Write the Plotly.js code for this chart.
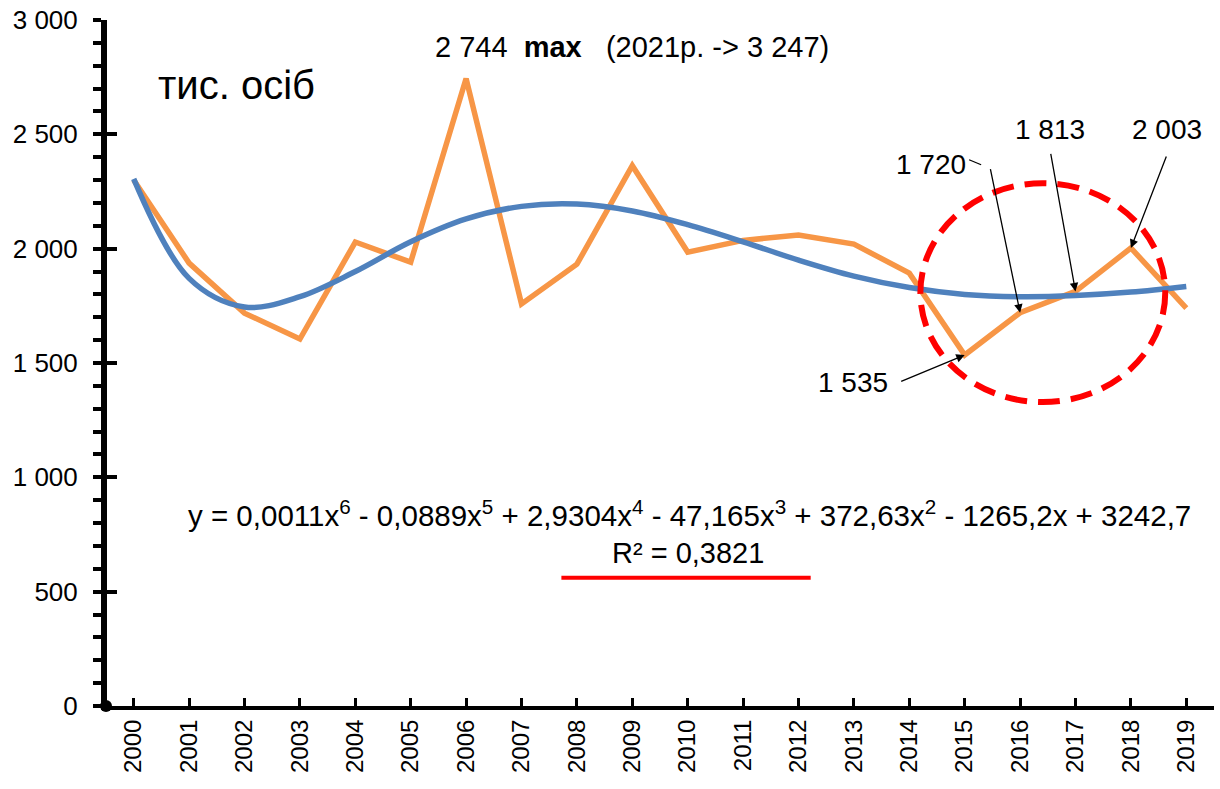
<!DOCTYPE html>
<html>
<head>
<meta charset="utf-8">
<script src="https://cdn.plot.ly/plotly-3.0.1.min.js"></script>
<style>html,body{margin:0;padding:0;background:#fff;}#chart{width:1220px;height:789px;}</style>
</head>
<body>
<div id="chart"></div>
<script>
const years = ['2000','2001','2002','2003','2004','2005','2006','2007','2008','2009','2010','2011','2012','2013','2014','2015','2016','2017','2018','2019'];
const actual = [2300,1937,1718,1605,2029,1941,2744,1758,1932,2363,1985,2036,2060,2020,1893,1535,1720,1813,2003,1740];
const trend = [2305,1870,1745,1790,1900,2030,2130,2185,2195,2165,2105,2030,1950,1880,1830,1800,1790,1795,1810,1835];
const yTicks = [0,500,1000,1500,2000,2500,3000];

const FONT = 'Liberation Sans, Arial, sans-serif';

const traces = [
  {x: years, y: actual, type: 'scatter', mode: 'lines', line: {color: '#F79646', width: 5.5}, cliponaxis: false, hoverinfo: 'skip'},
  {x: years, y: trend, type: 'scatter', mode: 'lines', line: {color: '#4F81BD', width: 5.5, shape: 'spline', smoothing: 1}, cliponaxis: false, hoverinfo: 'skip'},
  {x: years, y: actual, yaxis: 'y2', type: 'scatter', mode: 'lines', line: {width: 0}, opacity: 0, hoverinfo: 'skip'}
];

function txt(text, xp, yp, size, extra) {
  return Object.assign({text: text, xref: 'paper', yref: 'paper', x: xp, y: yp, showarrow: false,
    xanchor: 'center', yanchor: 'middle', font: {family: FONT, size: size, color: '#000'}}, extra || {});
}
function arrow(xi, yv, ax, ay) {
  return {x: xi, y: yv, xref: 'x', yref: 'y', text: '', showarrow: true, ax: ax, ay: ay,
    arrowhead: 2, arrowsize: 1.3, arrowwidth: 1.3, arrowcolor: '#000', standoff: 0};
}

const layout = {
  width: 1220, height: 789,
  margin: {l: 106, r: 6, t: 20, b: 83},
  paper_bgcolor: '#fff', plot_bgcolor: '#fff',
  showlegend: false,
  font: {family: FONT, size: 22, color: '#000'},
  xaxis: {
    type: 'category', range: [-0.5, 19.5], fixedrange: true,
    showline: true, linecolor: '#000', linewidth: 4,
    ticks: 'inside', ticklen: 8, tickwidth: 3, tickcolor: '#000',
    tickangle: -90, tickfont: {family: FONT, size: 24, color: '#000'},
    showgrid: false, zeroline: false
  },
  yaxis: {
    range: [0, 3000], tickvals: yTicks, fixedrange: true,
    showline: true, linecolor: '#000', linewidth: 5,
    ticks: 'outside', ticklen: 8, tickwidth: 4, tickcolor: '#000',
    minor: {dtick: 100, ticks: 'outside', ticklen: 8, tickwidth: 4, tickcolor: '#000'},
    tickformat: ',d', ticklabelstandoff: 10,
    tickfont: {family: FONT, size: 26, color: '#000'},
    showgrid: false, zeroline: false
  },
  yaxis2: {
    overlaying: 'y', side: 'left', anchor: 'x', range: [0, 3000], tickvals: yTicks,
    showline: false,
    ticks: 'inside', ticklen: 11, tickwidth: 4, tickcolor: '#000',
    showticklabels: false, showgrid: false, zeroline: false, fixedrange: true
  },
  separators: ', ',
  shapes: [
    {type: 'line', xref: 'paper', yref: 'paper', xsizemode: 'pixel', xanchor: 0, x0: -1.5, x1: -1.5, y0: 0, y1: 1,
     line: {color: '#000', width: 5}, layer: 'above'},
    {type: 'circle', xref: 'paper', yref: 'paper', x0: 0.735, x1: 0.956, y0: 0.443, y1: 0.762,
     line: {color: '#FF0000', width: 6, dash: '22px,11px'}, fillcolor: 'rgba(0,0,0,0)'},
    {type: 'line', xref: 'paper', yref: 'paper', x0: 0.411, x1: 0.636, y0: 0.187, y1: 0.187,
     line: {color: '#FF0000', width: 4}},
    {type: 'circle', xref: 'paper', yref: 'paper', xsizemode: 'pixel', ysizemode: 'pixel',
     xanchor: 0, yanchor: 0, x0: -6, x1: 6, y0: -6, y1: 6, fillcolor: '#000', line: {color: '#000', width: 0}},
    {type: 'line', xref: 'paper', yref: 'paper', xsizemode: 'pixel', ysizemode: 'pixel', xanchor: 0.788, yanchor: 0.789,
     x0: -10, x1: 2, y0: 5, y1: 0, line: {color: '#000', width: 1.3}}
  ],
  annotations: [
    txt('тис. осіб', 0.118, 0.905, 40),
    txt('2 744  <b>max</b>   (2021р. -> 3 247)', 0.475, 0.961, 29),
    txt('1 720', 0.745, 0.789, 28),
    txt('1 813', 0.852, 0.840, 28),
    txt('2 003', 0.958, 0.840, 28),
    txt('1 535', 0.674, 0.471, 28),
    txt('y = 0,0011x<sup>6</sup> - 0,0889x<sup>5</sup> + 2,9304x<sup>4</sup> - 47,165x<sup>3</sup> + 372,63x<sup>2</sup> - 1265,2x + 3242,7', 0.527, 0.281, 29.5),
    txt('R² = 0,3821', 0.525, 0.223, 29),
    arrow(16, 1720, -30, -145),
    arrow(17, 1813, -25, -139),
    arrow(18, 2003, 36, -93),
    arrow(15, 1535, -65, 27)
  ]
};

Plotly.newPlot('chart', traces, layout, {staticPlot: true, displayModeBar: false});
</script>
</body>
</html>
